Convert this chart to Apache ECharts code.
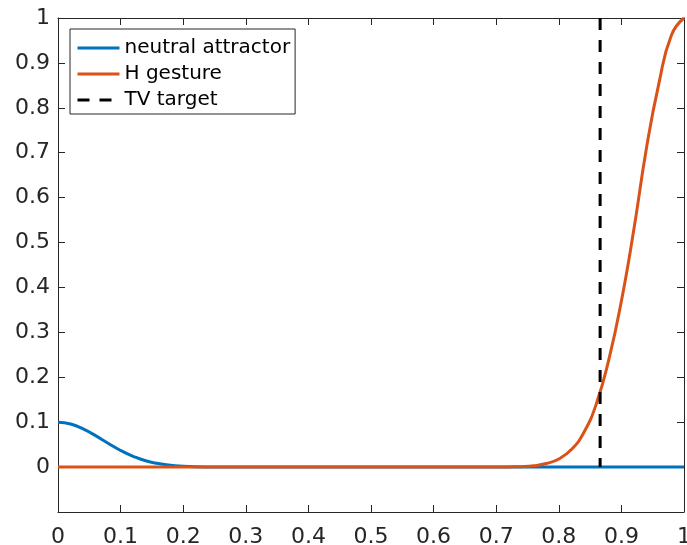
<!DOCTYPE html>
<html>
<head>
<meta charset="utf-8">
<script src="https://cdn.jsdelivr.net/npm/echarts@6/dist/echarts.min.js"></script>
<style>
  html, body { margin: 0; padding: 0; background: #fff; overflow: hidden; }
  #chart { width: 687px; height: 545px; }
</style>
</head>
<body>
<div id="chart"></div>
<script>
// Neutral attractor (blue)
const neutralX = [0, 0.02, 0.04, 0.06, 0.08, 0.10, 0.12, 0.14, 0.16, 0.18, 0.20, 0.22, 0.24, 0.26, 0.30, 1];
const neutralY = [0.100, 0.096, 0.085, 0.070, 0.053, 0.037, 0.024, 0.014, 0.008, 0.004, 0.002, 0.0008, 0.0003, 0.0001, 0, 0];

// H gesture (orange)
const gestureX = [0, 0.66, 0.70, 0.72, 0.74, 0.76, 0.78, 0.80, 0.82, 0.84, 0.86, 0.88, 0.90, 0.92, 0.94, 0.96, 0.98, 1];
const gestureY = [0, 0, 0.0001, 0.0004, 0.001, 0.003, 0.008, 0.018, 0.039, 0.077, 0.141, 0.24, 0.37, 0.53, 0.71, 0.855, 0.962, 1];

// TV target (vertical dashed line)
const targetX = 0.866;
const targetYRange = [1, 0];

const seriesNames = ['neutral attractor', 'H gesture', 'TV target'];

const axisColor = '#262626';
const font = 'DejaVu Sans';

const pairs = (xs, ys) => xs.map((x, i) => [x, ys[i]]);
const tickText = v => {
  if (v < -0.05) return '';
  return String(Math.round(v * 10) / 10);
};

const baseAxis = {
  type: 'value',
  interval: 0.1,
  axisLine: { show: true, onZero: false, lineStyle: { color: axisColor, width: 1 } },
  axisTick: { show: true, inside: true, length: 7, lineStyle: { color: axisColor, width: 1 } },
  splitLine: { show: false },
  axisLabel: { show: false }
};

const chart = echarts.init(document.getElementById('chart'), null, { renderer: 'canvas' });
chart.setOption({
  animation: false,
  backgroundColor: '#ffffff',
  grid: { left: 58, right: 3, top: 18, bottom: 33, containLabel: false, outerBoundsMode: 'none' },
  legend: {
    orient: 'vertical',
    left: 70,
    top: 29,
    padding: [9, 5, 4, 6],
    itemWidth: 42,
    itemHeight: 14,
    itemGap: 6,
    backgroundColor: '#ffffff',
    borderColor: axisColor,
    borderWidth: 1,
    borderRadius: 0,
    itemStyle: { opacity: 0 },
    lineStyle: { width: 3 },
    textStyle: { fontSize: 20, color: '#000', fontFamily: font },
    data: seriesNames
  },
  xAxis: [
    Object.assign({}, baseAxis, {
      min: 0, max: 1, position: 'bottom',
      axisLabel: { show: true, fontSize: 22, color: axisColor, fontFamily: font, margin: 14, formatter: tickText }
    }),
    Object.assign({}, baseAxis, { min: 0, max: 1, position: 'top' })
  ],
  yAxis: [
    Object.assign({}, baseAxis, {
      min: -0.1, max: 1, position: 'left',
      axisLabel: { show: true, fontSize: 22, color: axisColor, fontFamily: font, margin: 8, formatter: tickText }
    }),
    Object.assign({}, baseAxis, { min: -0.1, max: 1, position: 'right' })
  ],
  series: [
    {
      name: seriesNames[0],
      type: 'line',
      data: pairs(neutralX, neutralY),
      smooth: true,
      symbol: 'none',
      clip: false,
      color: '#0072BD',
      lineStyle: { color: '#0072BD', width: 3 }
    },
    {
      name: seriesNames[1],
      type: 'line',
      data: pairs(gestureX, gestureY),
      smooth: true,
      symbol: 'none',
      clip: false,
      color: '#D95319',
      lineStyle: { color: '#D95319', width: 3 }
    },
    {
      name: seriesNames[2],
      type: 'line',
      data: targetYRange.map(y => [targetX, y]),
      symbol: 'none',
      clip: false,
      color: '#000000',
      lineStyle: { color: '#000000', width: 3, type: [12, 10] }
    }
  ]
});
</script>
</body>
</html>
